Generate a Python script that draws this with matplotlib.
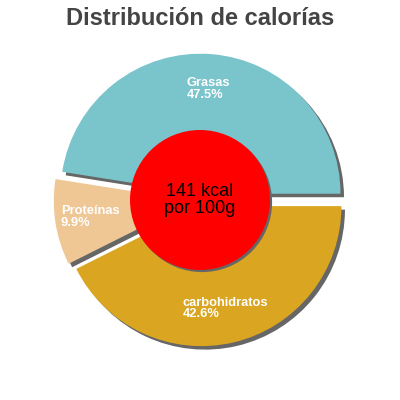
import numpy as np
import matplotlib
matplotlib.use('Agg')
import matplotlib.pyplot as plt
from matplotlib.patches import Wedge, Circle


labels = ['Grasas', 'Proteínas', 'carbohidratos']
percents = [47.5, 9.9, 42.6]
colors = ['#7AC4CC', '#EFC795', '#DAA520']
title = 'Distribución de calorías'
center_text = '141 kcal\npor 100g'

plt.rcParams['font.family'] = ['Liberation Sans', 'DejaVu Sans']

fig = plt.figure(figsize=(4, 4), dpi=100)
ax = fig.add_axes([0, 0, 1, 1])
lim = 200 / 140

wedges, _ = ax.pie(percents, colors=colors, startangle=0, counterclock=True,
                   explode=[0.045] * len(percents), radius=1,
                   wedgeprops=dict(linewidth=0, zorder=3))
ax.set_xlim(-lim, lim)
ax.set_ylim(-lim, lim)
ax.set_aspect('equal')
ax.axis('off')

# shadows, offset to the lower right
sdx, sdy = 0.025, -0.025
for w in wedges:
    cx, cy = w.center
    ax.add_patch(Wedge((cx + sdx, cy + sdy), w.r, w.theta1, w.theta2,
                       facecolor='#666666', linewidth=0, zorder=2))

# labels inside each slice
for w, name, pct in zip(wedges, labels, percents):
    mid = np.deg2rad((w.theta1 + w.theta2) / 2)
    cx, cy = w.center
    x = cx + 0.75 * np.cos(mid)
    y = cy + 0.75 * np.sin(mid)
    ax.text(x, y, f'{name}\n{pct}%', ha='center', va='center',
            multialignment='left', color='white', fontsize=9.3,
            fontweight='bold', linespacing=0.95, zorder=6)

# center disc
ax.add_patch(Circle((sdx * 0.6, sdy * 0.6), 0.5, facecolor='#666666', linewidth=0, zorder=4))
ax.add_patch(Circle((0, 0), 0.5, facecolor='#FF0000', linewidth=0, zorder=5))
ax.text(0, 0, center_text, ha='center', va='center', fontsize=13,
        color='black', linespacing=0.95, zorder=6)

fig.text(0.5, 0.9375, title, ha='center', va='baseline', fontsize=17,
         fontweight='bold', color='#444444')

fig.savefig('out.png', dpi=100)
